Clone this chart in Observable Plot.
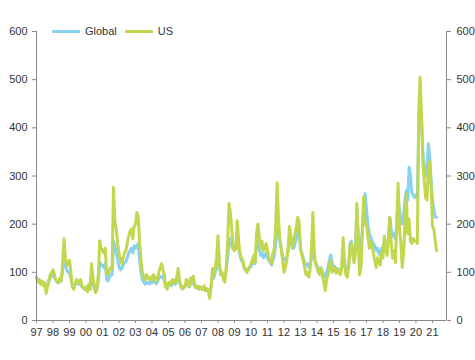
<!DOCTYPE html>
<html><head><meta charset="utf-8">
<script src="https://cdn.jsdelivr.net/npm/d3@7"></script>
<script src="https://cdn.jsdelivr.net/npm/@observablehq/plot@0.6"></script>
<style>
body{margin:0;background:#fff;font-family:"Liberation Sans",Arial,sans-serif;}
#wrap{position:relative;width:475px;height:360px;}
.legend{position:absolute;top:25px;left:52px;display:flex;align-items:center;font-size:11px;color:#333;}
.sw{display:inline-block;width:28px;height:3px;margin-right:5px;}
.item{display:flex;align-items:center;margin-right:8px;}
</style></head><body><div id="wrap"></div>
<script>
// Monthly values, Jan 1997 - Apr 2021
const startYear = 1997;
const usValues = [
 88,80,85,75,82,72,78,56,70,85,95,100,        // 1997
 105,95,85,80,78,88,82,120,170,130,115,118,   // 1998
 125,100,70,65,75,85,80,78,85,72,68,65,       // 1999
 70,60,75,65,118,90,72,58,70,95,165,150,      // 2000
 145,140,150,100,95,105,110,108,276,205,190,160, // 2001
 140,125,118,130,140,145,160,175,185,190,170,195, // 2002
 200,224,215,160,125,100,90,85,95,88,85,90,   // 2003
 85,95,90,80,88,100,110,118,105,95,70,65,     // 2004
 78,80,75,85,82,78,90,108,85,72,65,70,        // 2005
 72,85,78,70,88,80,92,75,68,72,65,70,         // 2006
 68,65,72,62,66,60,46,70,108,95,110,130,      // 2007
 176,120,95,100,85,80,110,160,243,225,190,150, // 2008
 145,150,207,165,140,130,125,110,105,100,108,112, // 2009
 118,125,135,120,180,200,175,150,165,145,150,160, // 2010
 145,130,125,118,140,150,200,286,210,170,150,125, // 2011
 100,110,125,150,195,175,150,165,180,195,214,205, // 2012
 150,135,125,110,95,100,90,105,150,224,140,115,   // 2013
 110,100,95,108,90,80,62,85,95,110,125,100,       // 2014
 105,110,98,105,100,95,110,172,120,95,90,110,     // 2015
 150,160,135,120,140,243,160,95,110,180,256,200,  // 2016
 200,175,150,165,155,140,125,110,130,120,115,140, // 2017
 130,175,150,135,170,214,160,130,145,120,200,285, // 2018
 190,160,110,140,200,263,180,210,165,160,170,165, // 2019
 165,160,429,505,430,330,290,255,250,320,330,280, // 2020
 195,190,165,145                                  // 2021
];
const globalValues = [
 90,85,82,78,80,75,76,65,72,80,88,92,
 98,90,84,80,80,85,82,105,125,115,105,100,
 100,88,72,68,74,80,76,75,80,70,68,66,
 68,60,70,65,95,80,68,58,66,82,120,115,
 115,110,118,85,82,90,95,95,165,155,140,125,
 112,105,108,115,120,122,130,140,145,150,140,155,
 150,155,160,125,100,85,80,75,80,78,76,80,
 78,85,82,76,80,88,90,92,88,82,70,66,
 75,76,72,80,78,75,82,95,80,70,66,68,
 70,78,75,70,80,76,82,72,68,70,66,68,
 66,64,70,62,65,60,55,72,95,88,100,110,
 125,110,95,98,90,88,105,130,165,170,155,148,
 148,150,170,150,135,125,120,110,105,100,105,110,
 112,118,125,118,155,165,150,135,140,130,135,140,
 130,125,120,115,125,135,160,195,180,165,150,130,
 130,125,130,145,170,165,155,150,160,170,190,185,
 150,140,130,120,115,118,110,115,130,165,130,120,
 115,108,105,110,100,95,90,100,110,125,136,120,
 110,112,105,108,105,100,110,140,120,105,100,112,
 160,165,145,135,150,235,180,140,150,190,240,263,
 230,200,180,175,165,160,155,145,150,140,135,150,
 150,165,160,150,175,214,190,175,180,170,200,250,
 230,210,200,220,250,270,250,318,300,265,260,255,
 260,255,400,430,420,350,320,300,310,367,340,290,
 250,230,215,214
];
const yearTicks = d3.range(1997, 2022);
const yTicks = [0,100,200,300,400,500,600];
const xDomain = [1997, 2021.85];
const seriesNames = ["Global","US"];
const colors = ["#86d2f0","#c2d64e"];

const data = usValues.map((v,i)=>({t: startYear + i/12, us: v, global: globalValues[i]}));

const chart = Plot.plot({
  width: 475, height: 360,
  marginLeft: 36, marginRight: 29, marginTop: 31, marginBottom: 40,
  x: {domain: xDomain, label: null},
  y: {domain: [0,600], label: null},
  style: {fontFamily: "'Liberation Sans', Arial, sans-serif", fontSize: "11px", color: "#333", background: "#fff"},
  marks: [
    Plot.line(data, {x: "t", y: "global", stroke: colors[0], strokeWidth: 3, strokeLinejoin: "round"}),
    Plot.line(data, {x: "t", y: "us", stroke: colors[1], strokeWidth: 3, strokeLinejoin: "round"}),
    Plot.ruleY([0], {stroke: "#888"}),
    Plot.ruleX([xDomain[0]], {stroke: "#888"}),
    Plot.ruleX([xDomain[1]], {stroke: "#888"}),
    Plot.axisX({ticks: yearTicks, tickFormat: d => String(d % 100).padStart(2, "0"), tickSize: 3, tickPadding: 5, stroke: "#888", fill: "#333", label: null}),
    Plot.axisY({anchor: "left", ticks: yTicks, tickSize: 4, tickPadding: 5, stroke: "#888", fill: "#333", label: null}),
    Plot.axisY({anchor: "right", ticks: yTicks, tickSize: 4, tickPadding: 6, stroke: "#888", fill: "#333", label: null})
  ]
});
const wrap = document.getElementById("wrap");
wrap.appendChild(chart);
const leg = document.createElement("div");
leg.className = "legend";
seriesNames.forEach((n,i)=>{
  const it = document.createElement("span"); it.className = "item";
  const sw = document.createElement("span"); sw.className = "sw"; sw.style.background = colors[i];
  it.appendChild(sw); it.appendChild(document.createTextNode(n));
  leg.appendChild(it);
});
wrap.appendChild(leg);
</script>
</body></html>
